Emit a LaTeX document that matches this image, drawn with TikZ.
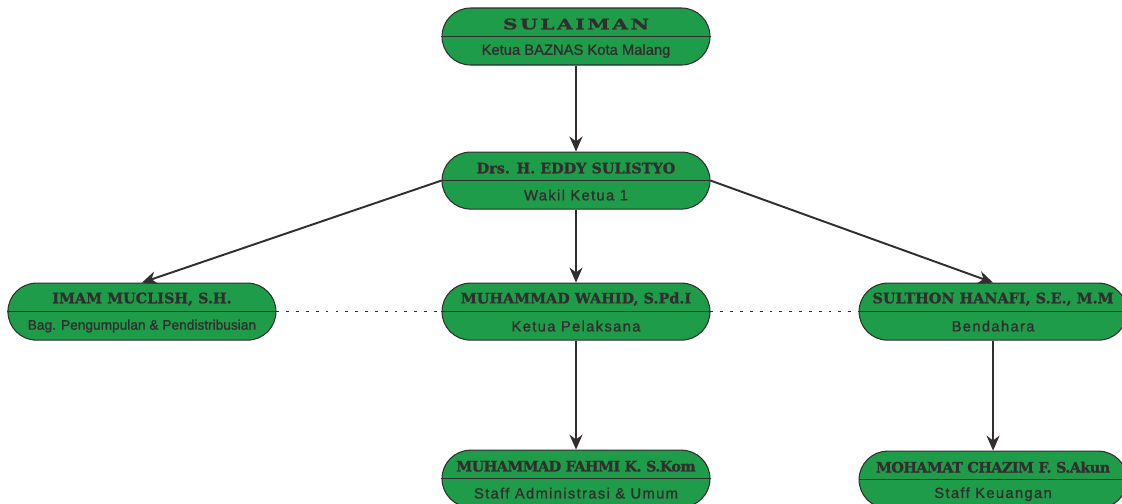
\documentclass[tikz,border=0pt]{standalone}
\usepackage{fontspec}
\setmainfont{Liberation Sans}
\newfontfamily\namefont[FakeBold=1.1]{DejaVu Serif}
\newfontfamily\widenamefont[FakeStretch=1.4, LetterSpace=18, FakeBold=1.3]{DejaVu Serif}
\newfontfamily\tightnamefont[LetterSpace=-4, FakeBold=1.1]{DejaVu Serif}
\newfontfamily\rolefont[LetterSpace=9, FakeBold=1.1]{Liberation Sans}
\newfontfamily\midrolefont[FakeBold=1.1]{Liberation Sans}
\usetikzlibrary{shapes.misc, arrows.meta, positioning, calc}

\definecolor{boxgreen}{RGB}{31,156,73}
\definecolor{inkgray}{RGB}{50,45,46}

% one box of the chart: id, placement, name, role
\newcommand{\staffbox}[4]{%
  \node[staff, #2] (#1) {};
  \draw[divider] (#1.west) -- (#1.east);
  \node[nametext] (#1-name) at ($(#1.center)+(0,0.25)$) {#3};
  \node[roletext] (#1-role) at ($(#1.center)+(0,-0.29)$) {#4};
}

\begin{document}
\begin{tikzpicture}[
        node distance=1.5cm,
        staff/.style={rounded rectangle, draw=inkgray, line width=0.6pt, fill=boxgreen,
            minimum width=5.36cm, minimum height=1.14cm, inner sep=0pt},
        divider/.style={draw=inkgray, line width=0.6pt},
        nametext/.style={inner sep=0pt, text=inkgray, font=\namefont\bfseries\fontsize{8.2}{9}\selectfont},
        roletext/.style={inner sep=0pt, text=inkgray, font=\rolefont\fontsize{8.4}{9}\selectfont},
        link/.style={draw=inkgray, line width=1.1pt, -{Stealth[length=3mm, width=2.6mm]}},
        peer/.style={draw=inkgray, line width=0.7pt, dash pattern=on 1.6pt off 4pt}
    ]
        \useasboundingbox (0,0) rectangle (22.44,-10.06);

        % Pimpinan
        \staffbox{sulaiman}{at={(11.52,-0.73)}}{{\widenamefont SULAIMAN}}{{\midrolefont Ketua BAZNAS Kota Malang}}
        \staffbox{eddy}{below=1.72cm of sulaiman}{Drs. H. EDDY SULISTYO}{Wakil Ketua 1}

        % Bidang
        \staffbox{wahid}{below=1.46cm of eddy}{MUHAMMAD WAHID, S.Pd.I}{Ketua Pelaksana}
        \staffbox{imam}{left=3.3cm of wahid}{IMAM MUCLISH, S.H.}{{\midrolefont\fontsize{7.8}{9}\selectfont Bag. Pengumpulan \& Pendistribusian}}
        \staffbox{sulthon}{right=2.96cm of wahid}{SULTHON HANAFI, S.E., M.M}{Bendahara}

        % Staff
        \staffbox{fahmi}{below=2.18cm of wahid}{{\tightnamefont MUHAMMAD FAHMI K. S.Kom}}{Staff Administrasi \& Umum}
        \staffbox{chazim}{below=2.2cm of sulthon}{{\tightnamefont MOHAMAT CHAZIM F. S.Akun}}{Staff Keuangan}

        % Garis komando
        \draw[link] (sulaiman) -- (eddy);
        \draw[link] (eddy.west) -- (imam.north);
        \draw[link] (eddy) -- (wahid);
        \draw[link] (eddy.east) -- (sulthon.north);
        \draw[link] (wahid) -- (fahmi);
        \draw[link] (sulthon) -- (chazim);

        % Garis koordinasi
        \draw[peer] (imam.east) -- (wahid.west);
        \draw[peer] (wahid.east) -- (sulthon.west);
    \end{tikzpicture}
\end{document}
